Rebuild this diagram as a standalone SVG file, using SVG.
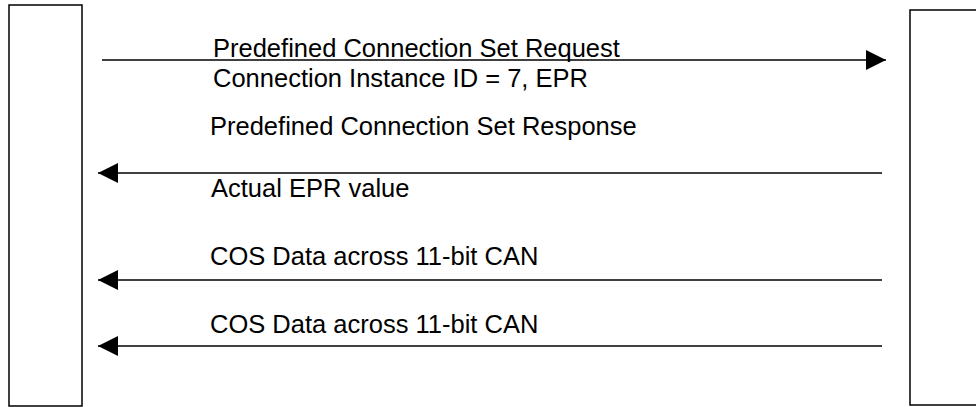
<svg xmlns="http://www.w3.org/2000/svg" width="976" height="407" viewBox="0 0 976 407">
  <style>
    .box { fill: #ffffff; stroke: #000000; stroke-width: 1.5; }
    .msg { stroke: #000000; stroke-width: 1.5; fill: none; marker-end: url(#head); }
    .lbl { font-family: "Liberation Sans", Arial, sans-serif; font-size: 25.5px; fill: #000000; }
  </style>
  <defs>
    <marker id="head" markerUnits="userSpaceOnUse" markerWidth="20" markerHeight="20" refX="20" refY="10" orient="auto">
      <path d="M0,0 L20,10 L0,20 Z" fill="#000000"/>
    </marker>
  </defs>
  <rect width="976" height="407" fill="#ffffff"/>

  <!-- participants -->
  <g id="node-left">
    <rect class="box" x="9" y="5" width="73" height="401"/>
  </g>
  <g id="node-right">
    <rect class="box" x="910" y="10" width="80" height="395"/>
  </g>

  <!-- message arrows -->
  <g id="connectors">
    <line class="msg" x1="102" y1="60" x2="886" y2="60"/>
    <line class="msg" x1="882" y1="173" x2="98" y2="173"/>
    <line class="msg" x1="882" y1="280" x2="98" y2="280"/>
    <line class="msg" x1="882" y1="346" x2="98" y2="346"/>
  </g>

  <!-- message labels -->
  <g id="labels">
    <text class="lbl" x="213" y="56.5">Predefined Connection Set Request</text>
    <text class="lbl" x="213" y="86.5">Connection Instance ID = 7, EPR</text>
    <text class="lbl" x="210" y="134.5">Predefined Connection Set Response</text>
    <text class="lbl" x="211" y="196.5">Actual EPR value</text>
    <text class="lbl" x="210" y="265">COS Data across 11-bit CAN</text>
    <text class="lbl" x="210" y="333">COS Data across 11-bit CAN</text>
  </g>
</svg>
